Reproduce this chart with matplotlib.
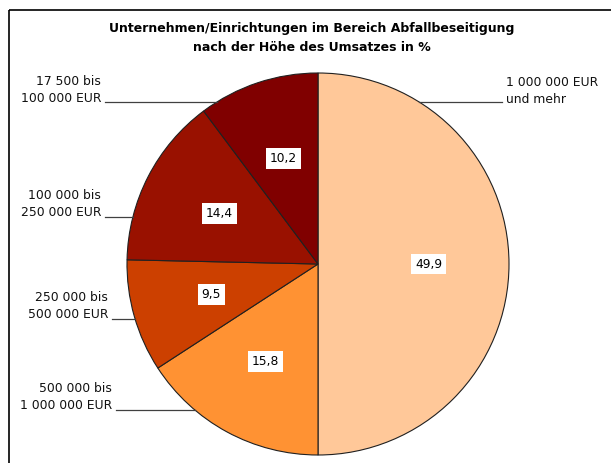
import numpy as np
import matplotlib.pyplot as plt
from matplotlib.patches import Rectangle

# DATA
values = [49.9, 15.8, 9.5, 14.4, 10.2]
value_labels = ["49,9", "15,8", "9,5", "14,4", "10,2"]
categories = [
    "1 000 000 EUR\nund mehr",
    "500 000 bis\n1 000 000 EUR",
    "250 000 bis\n500 000 EUR",
    "100 000 bis\n250 000 EUR",
    "17 500 bis\n100 000 EUR",
]
colors = ["#FFC899", "#FF9233", "#CC4000", "#991100", "#800000"]
title = "Unternehmen/Einrichtungen im Bereich Abfallbeseitigung\nnach der Höhe des Umsatzes in %"

# LAYOUT (pixel coordinates, y downwards)
W, H = 611, 463
cx, cy, r = 318, 264, 191
# (text x, text y, ha, line y, side)
label_pos = [
    (506, 91, "left", 102, +1),
    (112, 397, "right", 410, -1),
    (108, 306, "right", 319, -1),
    (101, 204, "right", 217, -1),
    (101, 90, "right", 102, -1),
]

fig = plt.figure(figsize=(W / 100, H / 100), dpi=100)
ax = fig.add_axes([0, 0, 1, 1])

wedges, texts = ax.pie(
    values,
    colors=colors,
    labels=value_labels,
    labeldistance=0.58,
    startangle=270,
    counterclock=True,
    center=(cx, cy),
    radius=r,
    wedgeprops=dict(edgecolor="#202020", linewidth=0.8),
)
for t in texts:
    t.set_ha("center")
    t.set_va("center")
    t.set_fontsize(8.8)
    t.set_bbox(dict(facecolor="white", edgecolor="none", pad=2.8))

# outer labels with leader lines
for cat, (tx, ty, ha, ly, side) in zip(categories, label_pos):
    ax.text(tx, ty, cat, ha=ha, va="center", fontsize=8.9,
            linespacing=1.4, color="#111111")
    x_edge = cx + side * np.sqrt(r**2 - (ly - cy) ** 2)
    x_start = tx - 4 if ha == "left" else tx + 4
    ax.plot([x_start, x_edge], [ly, ly], color="#404040", linewidth=0.9)

ax.text(cx - 6, 38, title, ha="center", va="center", fontsize=9,
        fontweight="bold", linespacing=1.6)

ax.add_patch(Rectangle((9, 10), 700, 600, fill=False, edgecolor="black",
                       linewidth=1.2))

ax.set_xlim(0, W)
ax.set_ylim(H, 0)
ax.set_aspect("equal")
ax.axis("off")

plt.savefig("out.png", dpi=100)
